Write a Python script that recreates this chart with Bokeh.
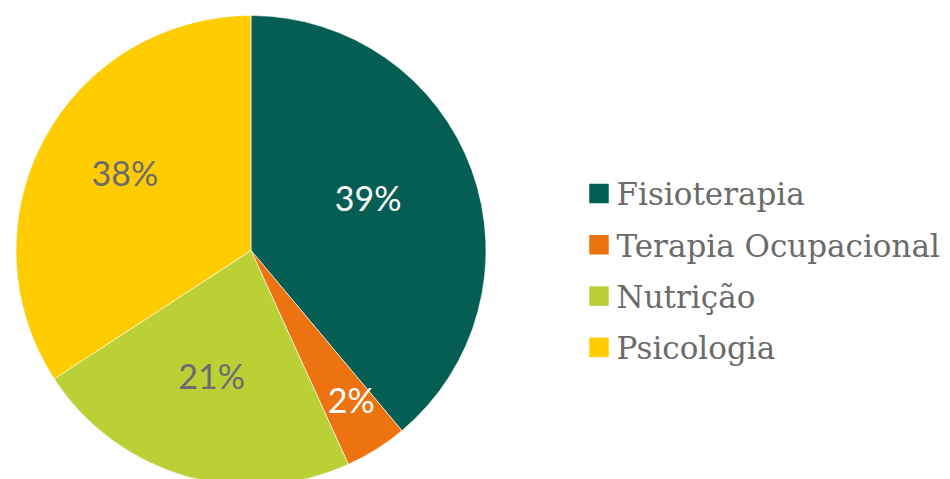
import numpy as np
from bokeh.plotting import figure
from bokeh.models import Range1d, ColumnDataSource
from bokeh.core.properties import value
from bokeh.embed import file_html
from bokeh.resources import INLINE

# ---- data ----
categories = ["Fisioterapia", "Terapia Ocupacional", "Nutrição", "Psicologia"]
shares = [38.9, 4.3, 22.6, 34.2]
pct_labels = ["39%", "2%", "21%", "38%"]

# ---- style / layout ----
colors = ["#045E53", "#ED7310", "#BBD035", "#FFCC00"]
label_colors = ["#FFFFFF", "#FFFFFF", "#6B6B70", "#6B6B70"]
label_radius = [0.53, 0.80, 0.60, 0.61]

W, H = 950, 479
cx, cy, R = 250.5, H - 250.0, 235.0

p = figure(width=W, height=H, output_backend="svg", toolbar_location=None,
           x_range=Range1d(0, W), y_range=Range1d(0, H), min_border=0,
           outline_line_color=None)
p.axis.visible = False
p.grid.visible = False
p.background_fill_color = "white"
p.border_fill_color = "white"

vals = np.array(shares, dtype=float)
frac = vals / vals.sum()
cum = np.concatenate([[0], np.cumsum(frac)])
start = np.pi / 2 - cum[:-1] * 2 * np.pi
end = np.pi / 2 - cum[1:] * 2 * np.pi
mid = (start + end) / 2

src = ColumnDataSource(dict(x=[cx] * 4, y=[cy] * 4, start=start, end=end, color=colors))
p.wedge(x="x", y="y", radius=R, start_angle="start", end_angle="end",
        direction="clock", fill_color="color", line_color="white", line_width=0.6,
        source=src)

lx = cx + np.array(label_radius) * R * np.cos(mid)
ly = cy + np.array(label_radius) * R * np.sin(mid)
p.text(x=lx, y=ly, text=pct_labels, text_color=label_colors,
       text_font=value("Lato"), text_font_size="34px",
       text_align="center", text_baseline="middle", y_offset=-10)

# legend (manual)
n = len(categories)
row_y = H - np.array([202.7, 254.0, 305.3, 356.6])
sq = 19.5
p.rect(x=[598.5] * n, y=row_y + sq / 2, width=sq, height=sq,
       fill_color=colors, line_color=None)
p.text(x=[616] * n, y=row_y, text=categories, text_color="#6B6B6B",
       text_font=value("DejaVu Serif"), text_font_size="31px",
       text_align="left", text_baseline="alphabetic", y_offset=-9)

open("out.html", "w").write(file_html(p, INLINE))
